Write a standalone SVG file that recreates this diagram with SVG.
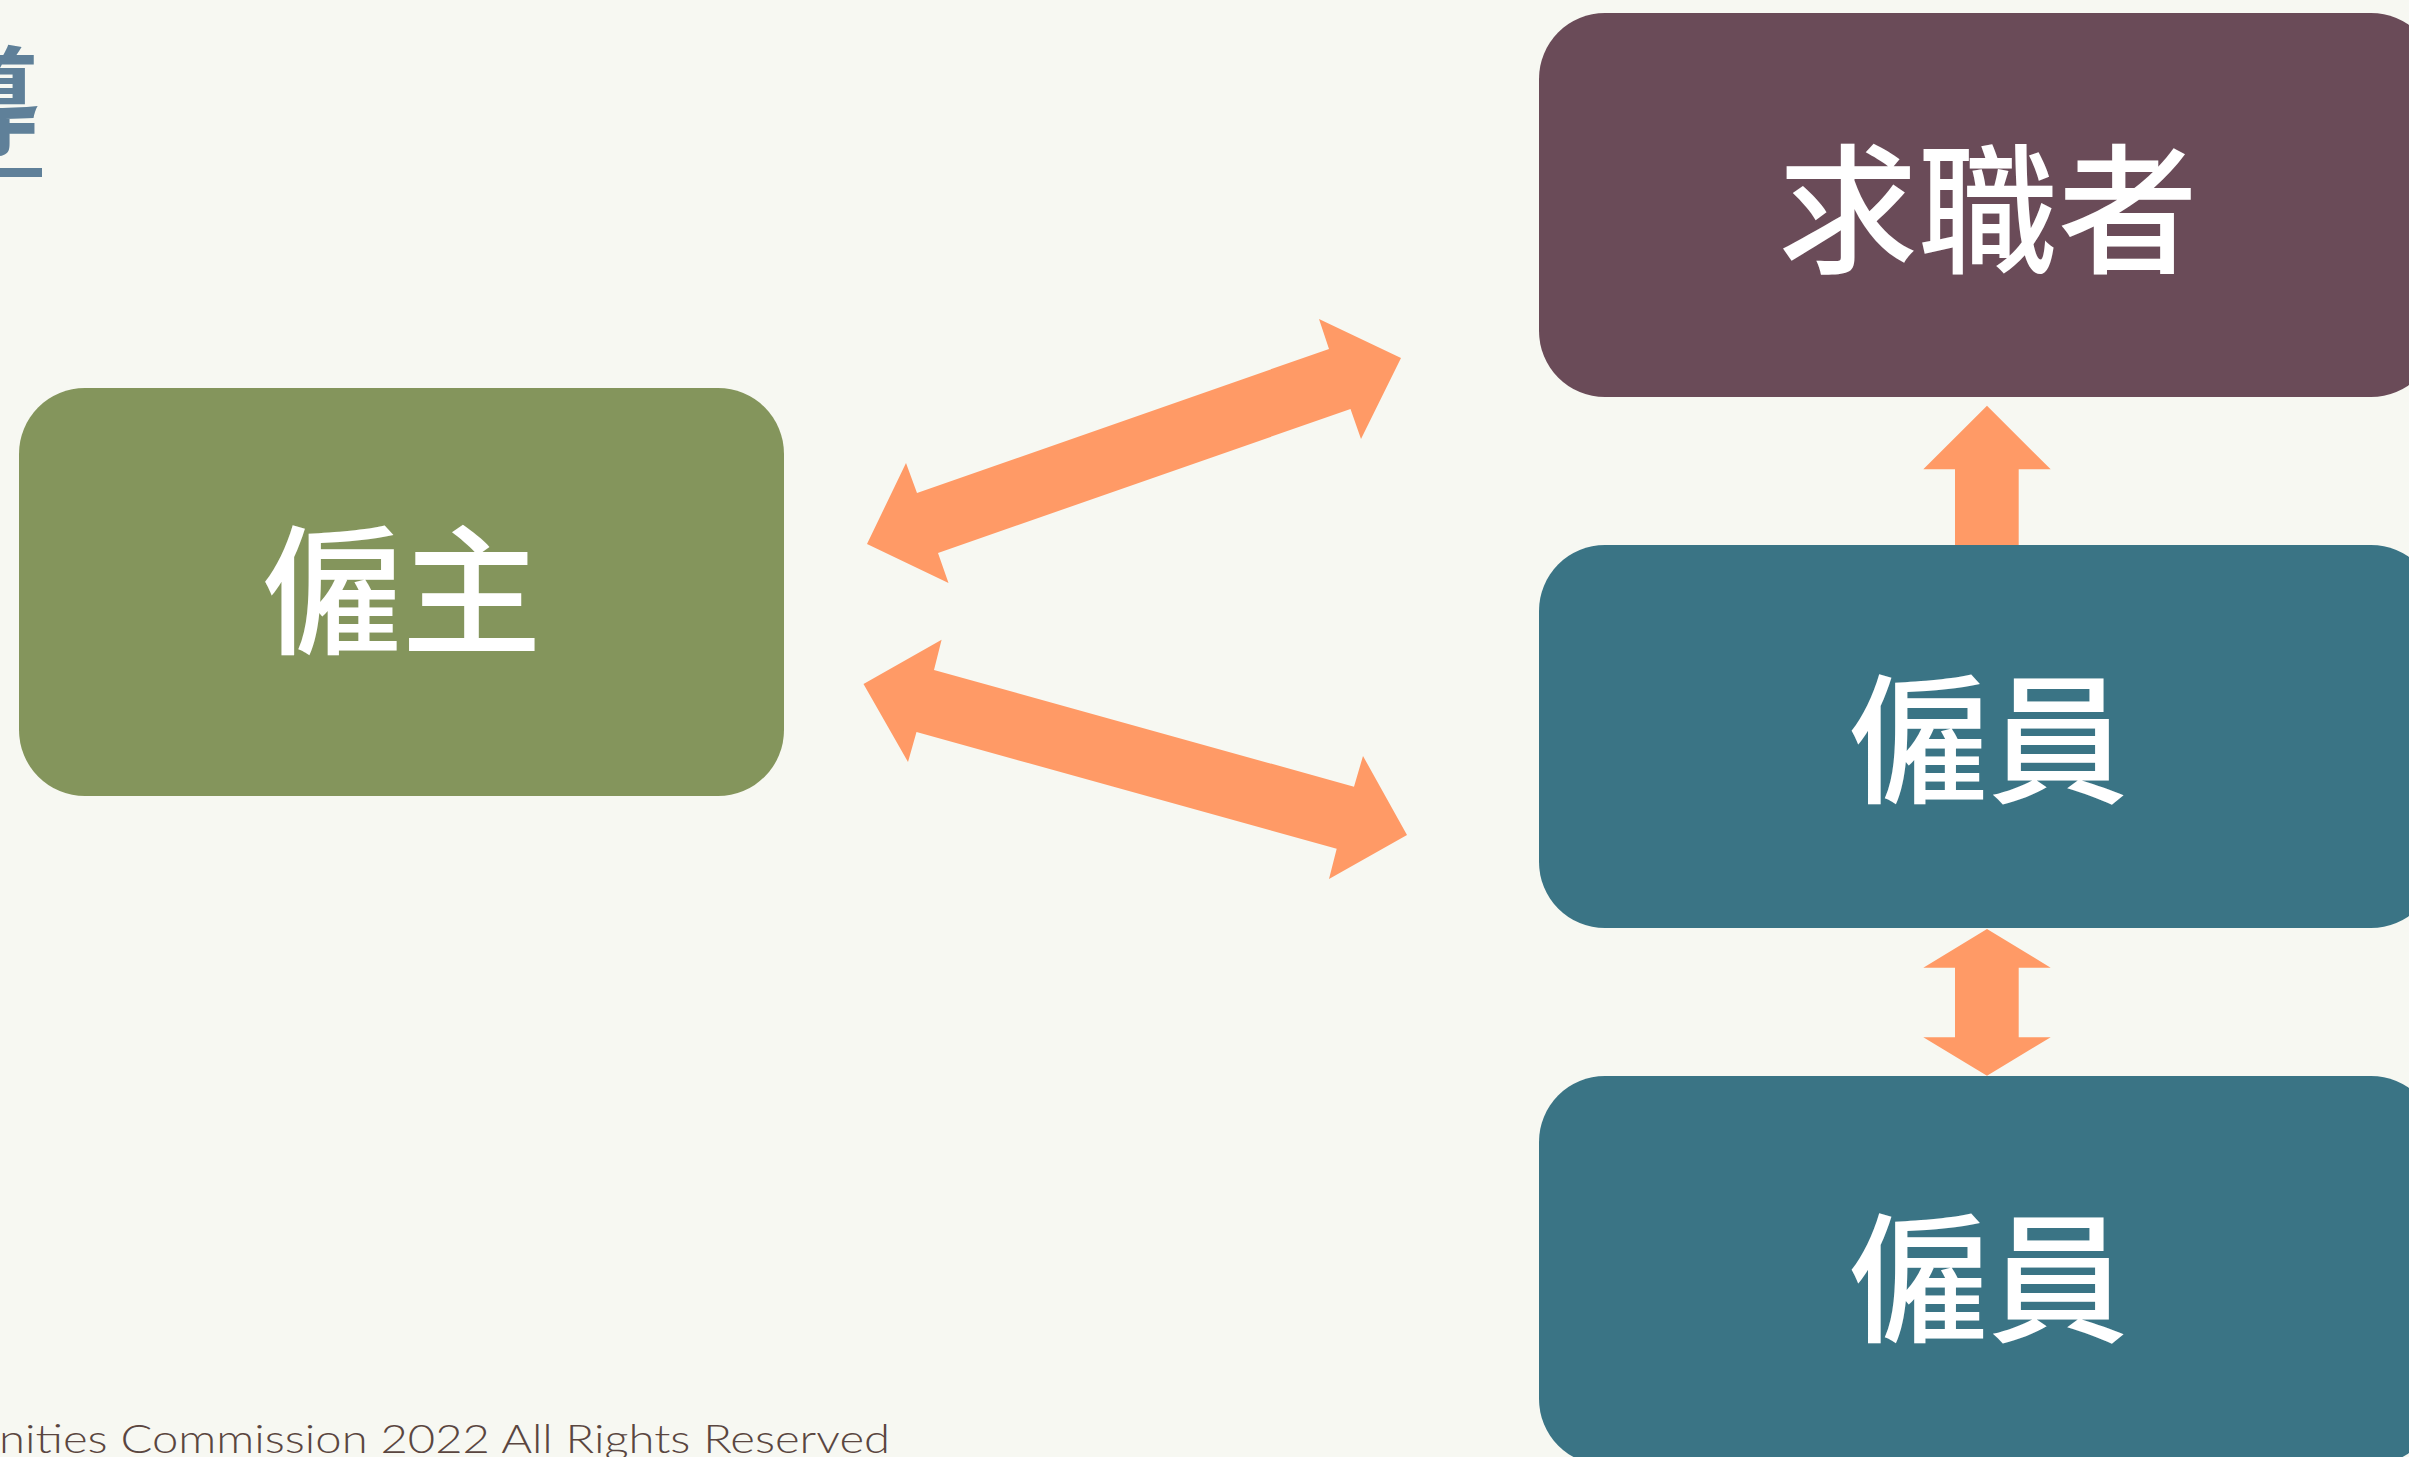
<svg xmlns="http://www.w3.org/2000/svg" width="2409" height="1457" viewBox="0 0 2409 1457">
<style>
.node-label{font-family:"Noto Sans CJK TC","Noto Sans CJK SC",sans-serif;font-size:140px;font-weight:500;fill:#ffffff;text-anchor:middle}
.arrow{fill:#FF9A66}
.title{font-family:"Noto Sans CJK TC","Noto Sans CJK SC",sans-serif;font-size:118px;font-weight:700;fill:#5F8099}
.footer{font-family:"Lato","Open Sans",sans-serif;font-size:39px;font-weight:300;fill:#5A4640}
</style>
<rect x="0" y="0" width="2409" height="1457" fill="#F7F8F2"/>
<g id="title">
<text class="title" x="-78" y="146">導</text>
<rect x="-10" y="168" width="52" height="9" fill="#5F8099"/>
</g>
<g id="footer">
<text class="footer" x="-1" y="1453" textLength="891" lengthAdjust="spacingAndGlyphs">nities Commission 2022 All Rights Reserved</text>
</g>
<g id="connectors">
<polygon class="arrow" points="867,544 906,463 917,493 1329,349 1319,319 1401,358 1361,439 1350.5,409 938,553 948.5,583"/>
<polygon class="arrow" points="863.5,684 941.6,639.7 934,670 1354,786.7 1363,756 1407,835 1329,879 1336.7,848.7 916.5,732 908,762"/>
<polygon class="arrow" points="1987,405.7 2050.7,469.3 2018.7,469.3 2018.7,546 1955,546 1955,469.3 1923.3,469.3"/>
<polygon class="arrow" points="1987,929 2050.7,967.7 2018.7,967.7 2018.7,1037.3 2050.7,1037.3 1987,1075.7 1923.3,1037.3 1955,1037.3 1955,967.7 1923.3,967.7"/>
</g>
<g id="employer">
<rect x="19" y="388" width="765" height="408" rx="66" ry="66" fill="#84955C"/>
<text class="node-label" x="401.5" y="643">僱主</text>
</g>
<g id="jobseeker">
<rect x="1539" y="13" width="898" height="384" rx="66" ry="66" fill="#6A4B58"/>
<text class="node-label" x="1988" y="262">求職者</text>
</g>
<g id="employee1">
<rect x="1539" y="545" width="898" height="383" rx="66" ry="66" fill="#3A7485"/>
<text class="node-label" x="1988" y="792">僱員</text>
</g>
<g id="employee2">
<rect x="1539" y="1076" width="898" height="389" rx="66" ry="66" fill="#3A7485"/>
<text class="node-label" x="1988" y="1331">僱員</text>
</g>
</svg>
